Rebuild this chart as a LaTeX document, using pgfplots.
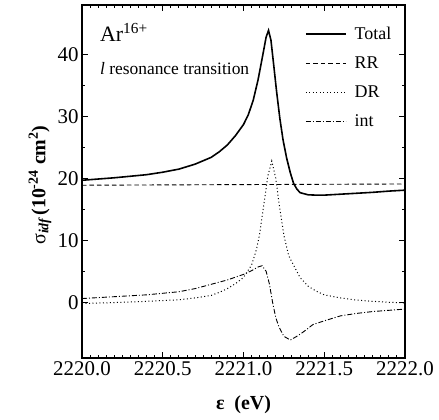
\documentclass[border=0pt]{standalone}
\usepackage{fontspec}
\setmainfont{Liberation Serif}
\usepackage{pgfplots}
\pgfplotsset{compat=1.18}
\begin{document}
\begin{tikzpicture}
\path[use as bounding box] (-82bp,-62bp) rectangle (357bp,358bp);
\begin{axis}[
  scale only axis, width=323bp, height=353bp,
  xmin=2220, xmax=2222, ymin=-9, ymax=48,
  xtick={2220,2220.5,2221,2221.5,2222},
  ytick={0,10,20,30,40},
  minor x tick num=9, minor y tick num=1,
  tick align=inside, tick pos=both,
  major tick length=6bp, minor tick length=3bp,
  axis line style={line width=1.4pt},
  every tick/.style={line width=0.9pt, black},
  /pgf/number format/assume math mode=true,
  ticklabel style={font=\fontsize{21}{21}\selectfont},
  xticklabel style={/pgf/number format/.cd, fixed, fixed zerofill, precision=1, 1000 sep={}},
  yticklabel style={/pgf/number format/.cd, fixed, precision=0},
  xlabel={\textbf{ε\ \ (eV)}},
  ylabel={σ\textsubscript{\bfseries\itshape idf\,}\textbf{(10\textsuperscript{-24} cm\textsuperscript{2})}},
  label style={font=\fontsize{20}{22}\selectfont},
  xlabel style={at={(axis description cs:0.5,-0.133)}, anchor=center},
  ylabel style={at={(axis description cs:-0.13,0.49)}, anchor=center},
  legend style={at={(axis description cs:0.690,0.938)}, anchor=north west, draw=none, fill=none,
    inner sep=0pt, font=\fontsize{18}{18}\selectfont, row sep=15bp,
    nodes={inner sep=0pt, text height=12bp, text depth=2bp},
    /tikz/every odd column/.append style={column sep=8bp}},
  legend cell align=left,
  legend image code/.code={\draw[#1] (0bp,0bp) -- (40bp,0bp);},
]
\addplot[black, line width=1.6pt] coordinates {
(2220.0,19.7) (2220.2,20.1) (2220.4,20.6) (2220.5,21.0) (2220.6,21.5)
(2220.7,22.3) (2220.8,23.4) (2220.85,24.3) (2220.9,25.4) (2220.95,26.9)
(2221.0,28.7) (2221.03,30.3) (2221.06,32.6) (2221.09,35.9) (2221.12,40.0)
(2221.14,42.8) (2221.155,43.9) (2221.17,42.3) (2221.185,38.8) (2221.205,34.0)
(2221.225,29.7) (2221.245,26.2) (2221.267,23.3) (2221.29,20.9) (2221.31,19.2)
(2221.33,18.3) (2221.35,17.7) (2221.4,17.35) (2221.45,17.3) (2221.5,17.3)
(2221.6,17.45) (2221.7,17.6) (2221.8,17.75) (2221.9,17.95) (2222.0,18.1)
};
\addlegendentry{Total}
\addplot[black, line width=0.9pt, dash pattern=on 4.5bp off 3bp] coordinates {
(2220.0,18.9) (2221.0,19.0) (2222.0,19.1)
};
\addlegendentry{RR}
\addplot[black, line width=1pt, dash pattern=on 1bp off 2.5bp] coordinates {
(2220.0,-0.2) (2220.2,-0.05) (2220.4,0.15) (2220.6,0.4) (2220.7,0.7)
(2220.8,1.1) (2220.85,1.6) (2220.9,2.2) (2220.95,3.0) (2221.0,4.0)
(2221.05,6.0) (2221.08,8.5) (2221.1,11.0) (2221.13,16.5) (2221.15,20.3)
(2221.175,22.8) (2221.2,20.0) (2221.22,16.0) (2221.25,10.8) (2221.28,7.5)
(2221.31,6.0) (2221.35,4.0) (2221.4,2.6) (2221.45,1.8) (2221.5,1.2)
(2221.6,0.7) (2221.7,0.35) (2221.8,0.15) (2221.9,0.0) (2222.0,-0.1)
};
\addlegendentry{DR}
\addplot[black, line width=0.9pt, dash pattern=on 5bp off 2bp on 1bp off 2bp] coordinates {
(2220.0,0.6) (2220.2,0.9) (2220.4,1.2) (2220.6,1.7) (2220.7,2.2)
(2220.8,2.9) (2220.9,3.6) (2221.0,4.5) (2221.05,5.1) (2221.09,5.7)
(2221.115,5.9) (2221.14,5.0) (2221.16,3.0) (2221.18,0.0) (2221.2,-2.5)
(2221.22,-4.0) (2221.25,-5.5) (2221.29,-6.1) (2221.33,-5.5) (2221.37,-4.8)
(2221.43,-3.6) (2221.5,-3.0) (2221.6,-2.2) (2221.7,-1.8) (2221.8,-1.5)
(2221.9,-1.3) (2222.0,-1.1)
};
\addlegendentry{int}
\node[anchor=west, font=\fontsize{22}{22}\selectfont] at (axis description cs:0.045,0.923) {Ar\textsuperscript{16+}};
\node[anchor=west, font=\fontsize{17.5}{17.5}\selectfont] at (axis description cs:0.045,0.82) {\textit{l} resonance transition};
\end{axis}
\end{tikzpicture}
\end{document}
